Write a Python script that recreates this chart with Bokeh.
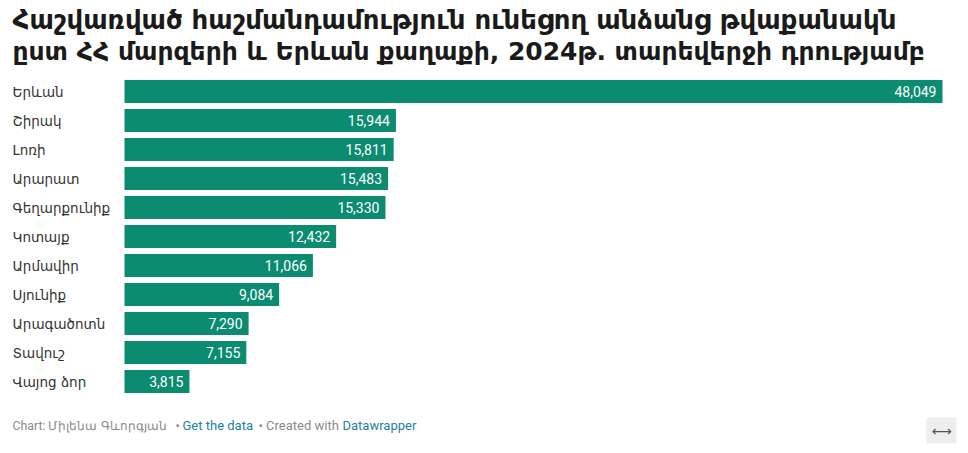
from bokeh.plotting import figure
from bokeh.models import ColumnDataSource, Range1d, LabelSet, Label
from bokeh.core.properties import value
from bokeh.embed import file_html
from bokeh.resources import INLINE

categories = ["Երևան", "Շիրակ", "Լոռի", "Արարատ", "Գեղարքունիք", "Կոտայք",
              "Արմավիր", "Սյունիք", "Արագածոտն", "Տավուշ", "Վայոց ձոր"]
values = [48049, 15944, 15811, 15483, 15330, 12432, 11066, 9084, 7290, 7155, 3815]
value_labels = [f"{v:,}" for v in values]

title_lines = ["Հաշվառված հաշմանդամություն ունեցող անձանց թվաքանակն",
               "ըստ ՀՀ մարզերի և Երևան քաղաքի, 2024թ. տարեվերջի դրությամբ"]

BAR = "#0b8b6f"
W, H = 960, 445
BAR_X0, BAR_X1 = 124, 942      # pixel span of the longest bar
ROW0, ROW = 91, 29.0           # centre of first row, row pitch (px)

k = max(values) / (BAR_X1 - BAR_X0)
rows = list(range(len(categories)))

src = ColumnDataSource(dict(cat=categories, val=values, lab=value_labels, row=rows))

p = figure(width=W, height=H, output_backend="svg", toolbar_location=None,
           x_range=Range1d(-BAR_X0 * k, (W - BAR_X0) * k),
           y_range=Range1d((H - ROW0) / ROW, -ROW0 / ROW),
           min_border=0, min_border_left=0, min_border_right=0,
           min_border_top=0, min_border_bottom=0)
p.xaxis.visible = False
p.yaxis.visible = False
p.xgrid.visible = False
p.ygrid.visible = False
p.outline_line_color = None
p.background_fill_color = "white"
p.border_fill_color = "white"

p.hbar(y="row", left=0, right="val", height=0.79, source=src,
       fill_color=BAR, line_color=None)

p.add_layout(LabelSet(x=12, y="row", text="cat", source=src, x_units="screen",
                      y_units="data", text_align="left", text_baseline="middle",
                      text_font=value("DejaVu Sans"), text_font_size="13.5px",
                      text_color="#333333"))
p.add_layout(LabelSet(x="val", y="row", text="lab", source=src, x_offset=-6,
                      text_align="right", text_baseline="middle",
                      text_font=value("Roboto"), text_font_size="14px",
                      text_color="white"))

for i, line, size in [(0, title_lines[0], "26px"), (1, title_lines[1], "25px")]:
    p.add_layout(Label(x=12, y=H - (19 + i * 32),
                       x_units="screen", y_units="screen", text=line,
                       text_align="left", text_baseline="middle",
                       text_font="DejaVu Sans", text_font_size=size,
                       text_font_style="bold", text_color="#1a1a1a"))

footer = [("Chart: Միլենա Գևորգյան", "#8a8a8a", 12, "12.3px"),
          ("•", "#8a8a8a", 175, "13px"),
          ("Get the data", "#1d81a2", 182, "13px"),
          ("• Created with", "#8a8a8a", 258, "13px"),
          ("Datawrapper", "#1d81a2", 342, "13px")]
for txt, col, x, size in footer:
    p.add_layout(Label(x=x, y=H - 425, x_units="screen", y_units="screen",
                       text=txt, text_align="left", text_baseline="middle",
                       text_font="Roboto", text_font_size=size,
                       text_color=col))

p.add_layout(Label(x=941, y=H - 430, x_units="screen", y_units="screen",
                   text="⟷", text_align="center", text_baseline="middle",
                   text_font="DejaVu Sans", text_font_size="14px",
                   text_color="#555555", background_fill_color="#eeeeee",
                   padding=5))

open("out.html", "w").write(file_html(p, INLINE))
